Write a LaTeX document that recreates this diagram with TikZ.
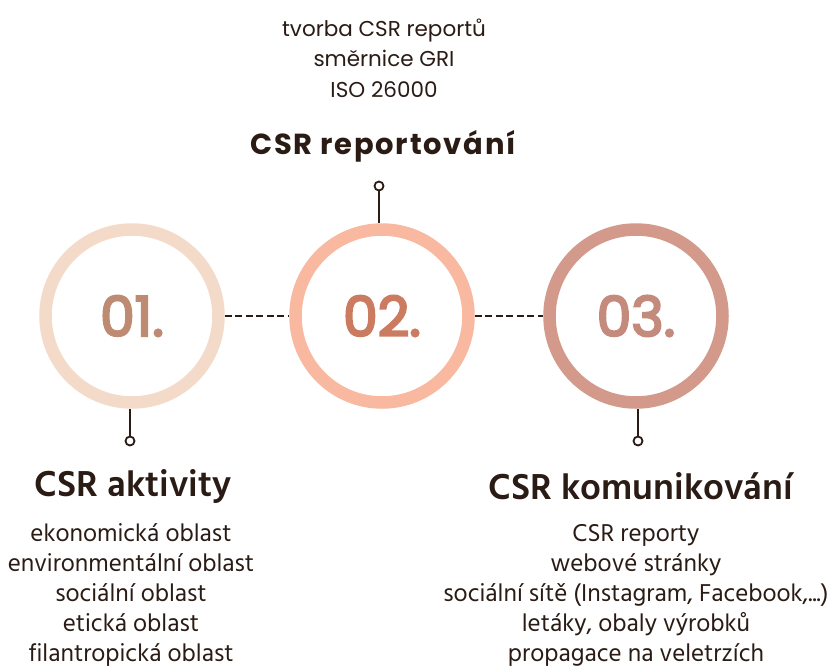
\documentclass[tikz,border=0pt]{standalone}
\usepackage{fontspec}
\setmainfont{Poppins}
\newfontfamily\hindfont{Hind Madurai}
\newfontfamily\headfont[LetterSpace=6]{Poppins}
\newfontfamily\numfont[FakeBold=4]{Poppins}
\usetikzlibrary{positioning}

\definecolor{ringA}{HTML}{F4DBC9}
\definecolor{ringB}{HTML}{F8B9A0}
\definecolor{ringC}{HTML}{D39A8C}
\definecolor{numA}{HTML}{BF8A72}
\definecolor{numB}{HTML}{CB7B5F}
\definecolor{numC}{HTML}{C48A7C}
\definecolor{ink}{HTML}{2A1B14}

\tikzset{
  ring/.style={circle, line width=12.5pt, minimum size=173pt, inner sep=0pt,
    outer sep=6.25pt, font=\numfont\fontsize{55}{55}\selectfont},
  pin/.style={circle, draw=ink, line width=1.8pt, minimum size=9pt, inner sep=0pt, fill=white},
  stem/.style={draw=ink, line width=2.2pt},
  link/.style={draw=ink, line width=2.6pt, dash pattern=on 7pt off 3.5pt},
  head/.style={text=ink, font=\hindfont\fontsize{37}{37}\selectfont\bfseries},
  body/.style={text=ink, align=center, font=\hindfont\fontsize{25}{30}\selectfont}
}

\begin{document}
\begin{tikzpicture}[x=1pt, y=-1pt]
  \useasboundingbox (0,0) rectangle (833,670);
  % circles
  \node[ring, draw=ringA, text=numA] (c1) at (132,316) {01.};
  \node[ring, draw=ringB, text=numB] (c2) at (382,316) {02.};
  \node[ring, draw=ringC, text=numC] (c3) at (636,316) {03.};
  \draw[link] (c1) -- (c2);
  \draw[link] (c2) -- (c3);
  % pins
  \node[pin] (p2) at (379,186) {};
  \node[pin] (p1) at (130,441) {};
  \node[pin] (p3) at (638,441) {};
  \draw[stem] (p2) -- (p2 |- c2.north);
  \draw[stem] (p1) -- (p1 |- c1.south);
  \draw[stem] (p3) -- (p3 |- c3.south);
  % headings
  \node[text=ink, font=\headfont\fontsize{29}{29}\selectfont\bfseries] (h2) at (383,146) {CSR reportování};
  \node[head] (h1) at (133,486) {CSR aktivity};
  \node[head] (h3) at (641,486) {CSR komunikování};
  % lists
  \node[text=ink, align=center, font=\fontsize{21.5}{30.5}\selectfont] (l2) at (384,58)
    {tvorba CSR reportů\\směrnice GRI\\ISO 26000};
  \node[body] (l1) at (131,595)
    {ekonomická oblast\\environmentální oblast\\sociální oblast\\etická oblast\\filantropická oblast};
  \node[body] (l3) at (636,595)
    {CSR reporty\\webové stránky\\sociální sítě (Instagram, Facebook,...)\\letáky, obaly výrobků\\propagace na veletrzích};
\end{tikzpicture}
\end{document}
